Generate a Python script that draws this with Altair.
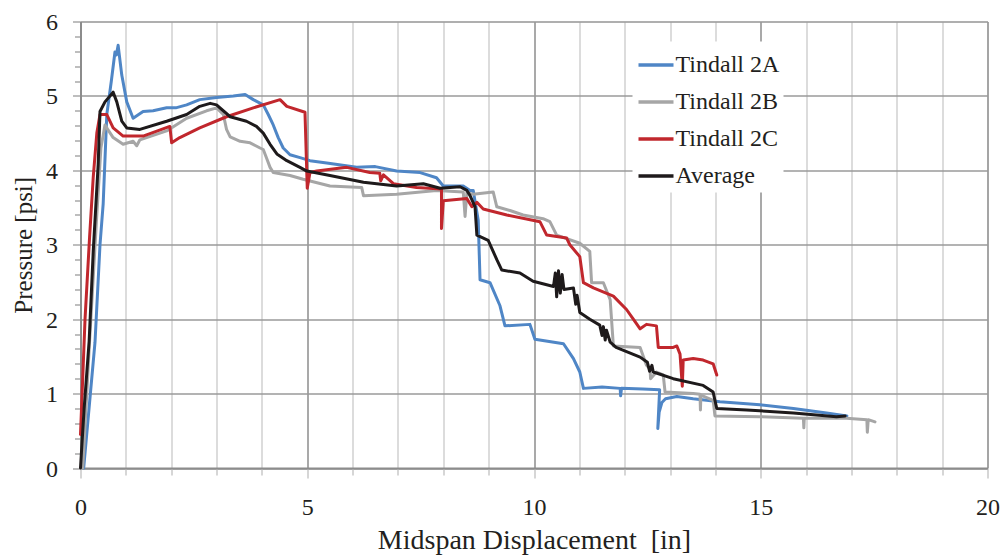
import altair as alt
import pandas as pd

# ---- data ----
series_names = ["Tindall 2A", "Tindall 2B", "Tindall 2C", "Average"]
series_colors = ["#4F86C6", "#A6A6A6", "#C1272D", "#1E1A1B"]

a_x = [0.07, 0.32, 0.43, 0.50, 0.58, 0.68, 0.76, 0.79, 0.83, 0.91, 1.02, 1.16, 1.38, 1.60,
       1.90, 2.10, 2.34, 2.63, 3.00, 3.37, 3.63, 3.81, 4.03, 4.14, 4.25, 4.36, 4.47, 4.62,
       4.84, 5.06, 5.43, 6.09, 6.50, 6.97, 7.49, 7.85, 8.00, 8.44, 8.59, 8.66, 8.77, 8.81,
       9.03, 9.25, 9.36, 9.91, 10.02, 10.65, 10.87, 11.01, 11.09, 11.50, 11.90, 11.91, 11.93,
       12.40, 12.77, 12.73, 12.76, 12.82, 12.90, 13.15, 13.51, 14.10, 14.98, 15.72, 16.45,
       16.90]
a_y = [0.00, 1.69, 3.00, 3.55, 4.75, 5.20, 5.59, 5.55, 5.68, 5.28, 4.92, 4.70, 4.79, 4.80,
       4.84, 4.84, 4.88, 4.95, 4.98, 5.00, 5.02, 4.95, 4.88, 4.75, 4.61, 4.44, 4.30, 4.21,
       4.17, 4.13, 4.10, 4.04, 4.05, 3.99, 3.97, 3.90, 3.79, 3.79, 3.73, 3.73, 3.33, 2.53,
       2.49, 2.18, 1.91, 1.93, 1.73, 1.67, 1.47, 1.29, 1.07, 1.09, 1.07, 0.97, 1.07,
       1.06, 1.05, 0.53, 0.75, 0.88, 0.93, 0.96, 0.93, 0.89, 0.85, 0.80, 0.74,
       0.70]

b_x = [0.05, 0.20, 0.35, 0.45, 0.54, 0.60, 0.72, 0.94, 1.16, 1.24, 1.31, 1.90, 2.34, 2.78,
       3.00, 3.15, 3.22, 3.30, 3.52, 3.74, 3.96, 4.03, 4.10, 4.18, 4.25, 4.62, 4.91, 5.50,
       6.20, 6.24, 6.97, 7.85, 8.44, 8.48, 8.52, 8.66, 9.10, 9.18, 9.47, 9.76, 10.20, 10.35,
       10.50, 11.01, 11.23, 11.27, 11.53, 11.68, 11.75, 12.34, 12.48, 12.56, 12.57, 12.70,
       12.85, 12.89, 13.51, 13.66, 13.67, 13.68, 13.95, 13.99, 14.98, 15.94, 15.95, 15.96,
       16.89, 17.34, 17.35, 17.37, 17.52]
b_y = [0.00, 1.70, 3.30, 4.30, 4.61, 4.55, 4.44, 4.35, 4.39, 4.33, 4.41, 4.53, 4.70, 4.80,
       4.84, 4.75, 4.55, 4.45, 4.39, 4.37, 4.30, 4.28, 4.17, 4.04, 3.97, 3.93, 3.88, 3.79,
       3.77, 3.66, 3.68, 3.73, 3.71, 3.38, 3.70, 3.68, 3.71, 3.51, 3.46, 3.40, 3.35, 3.31,
       3.13, 3.02, 2.91, 2.49, 2.49, 2.26, 1.64, 1.62, 1.38, 1.33, 1.20, 1.29,
       1.25, 1.02, 1.00, 0.99, 0.78, 0.98, 0.91, 0.70, 0.69, 0.67, 0.54, 0.67,
       0.67, 0.65, 0.48, 0.65, 0.62]

c_x = [0.00, 0.10, 0.20, 0.28, 0.36, 0.43, 0.58, 0.72, 0.94, 1.38, 1.97, 2.01, 2.19, 2.63,
       3.22, 3.81, 4.40, 4.55, 4.95, 5.00, 5.06, 5.21, 5.87, 6.38, 6.60, 6.62, 6.68, 6.90,
       7.41, 7.96, 7.96, 8.00, 8.52, 8.63, 8.74, 8.88, 9.40, 10.13, 10.28, 10.72, 10.79,
       11.01, 11.09, 11.31, 11.75, 12.04, 12.19, 12.34, 12.48, 12.70, 12.74, 13.07, 13.15,
       13.22, 13.27, 13.29, 13.51, 13.73, 13.95, 14.03]
c_y = [0.45, 2.00, 3.10, 3.90, 4.50, 4.75, 4.75, 4.57, 4.46, 4.46, 4.59, 4.37, 4.44, 4.57,
       4.72, 4.84, 4.95, 4.86, 4.78, 3.76, 3.97, 3.99, 4.04, 3.97, 3.96, 3.86, 3.94, 3.82,
       3.77, 3.75, 3.22, 3.59, 3.62, 3.51, 3.57, 3.48, 3.40, 3.31, 3.13, 3.09, 3.00,
       2.84, 2.49, 2.42, 2.31, 2.13, 2.00, 1.87, 1.93, 1.91, 1.62, 1.62, 1.64,
       1.53, 1.10, 1.45, 1.47, 1.45, 1.40, 1.25]

d_x = [0.00, 0.08, 0.19, 0.28, 0.39, 0.43, 0.54, 0.72, 0.80, 0.91, 1.02, 1.31, 1.90, 2.34,
       2.63, 2.86, 3.00, 3.30, 3.66, 3.88, 4.03, 4.18, 4.33, 4.55, 4.84, 4.99, 5.50, 6.24,
       6.97, 7.56, 7.93, 8.37, 8.52, 8.59, 8.70, 8.74, 8.99, 9.18, 9.29, 9.69, 9.98, 10.43,
       10.47, 10.50, 10.54, 10.58, 10.62, 10.66, 10.87, 10.92, 10.95, 11.01, 11.23, 11.45,
       11.50, 11.53, 11.57, 11.60, 11.68, 11.81, 12.34, 12.50, 12.55, 12.60, 12.63, 13.07,
       13.73, 13.95, 14.03, 14.69, 15.72, 16.67, 16.86]
d_y = [0.00, 0.80, 1.70, 2.90, 4.08, 4.79, 4.92, 5.05, 4.92, 4.66, 4.57, 4.55, 4.66, 4.75,
       4.86, 4.90, 4.88, 4.72, 4.66, 4.59, 4.50, 4.35, 4.22, 4.13, 4.04, 3.99, 3.93, 3.84,
       3.79, 3.82, 3.76, 3.78, 3.73, 3.66, 3.51, 3.13, 3.06, 2.80, 2.66, 2.62, 2.51, 2.44,
       2.62, 2.30, 2.65, 2.35, 2.60, 2.40, 2.42, 2.20, 2.32, 2.09, 2.00, 1.92,
       1.78, 1.90, 1.72, 1.85, 1.69, 1.62, 1.49, 1.42, 1.30, 1.38, 1.29, 1.20,
       1.11, 1.02, 0.80, 0.78, 0.74, 0.69, 0.70]

x_tick_values = list(range(0, 21))
y_tick_values = [round(v * 0.2, 1) for v in range(31)]

rows = []
for name, xs, ys in zip(series_names, [a_x, b_x, c_x, d_x], [a_y, b_y, c_y, d_y]):
    for i, (xv, yv) in enumerate(zip(xs, ys)):
        rows.append({"series": name, "x": xv, "y": yv, "i": i})
df = pd.DataFrame(rows)

FONT = "Liberation Serif"
TXT = "#231F20"
W, H = 907, 446.5
NB = "\u00a0"

x_axis = alt.Axis(
    values=x_tick_values,
    labelExpr="datum.value % 5 === 0 ? datum.label : ''",
    title="Midspan" + NB + "Displacement" + NB + NB + "[in]",
    grid=True,
    gridColor={"condition": {"test": "datum.value % 5 === 0", "value": "#8c8c8c"}, "value": "#d0d0d0"},
    gridWidth=1.5,
    domainColor="#8c8c8c", domainWidth=2,
    tickColor="#c8c8c8", tickWidth=1.5,
    tickSize={"condition": {"test": "datum.value % 5 === 0", "value": 10}, "value": 7},
    labelFont=FONT, labelFontSize=24, labelColor=TXT,
    labelBaseline="alphabetic", labelPadding=36, labelFlush=False,
    titleFont=FONT, titleFontSize=28, titleFontWeight="normal", titleColor=TXT,
    titleBaseline="alphabetic", titleY=80, titleX=W / 2, titleAlign="center",
)

y_axis = alt.Axis(
    values=y_tick_values,
    labelExpr="abs(datum.value - round(datum.value)) < 0.01 ? format(datum.value, 'd') : ''",
    title="Pressure [psi]",
    grid=True,
    gridColor="#9a9a9a", gridWidth=1.5,
    gridOpacity={"condition": {"test": "abs(datum.value - round(datum.value)) < 0.01", "value": 1}, "value": 0},
    domainColor="#8c8c8c", domainWidth=2,
    tickColor="#a8a8a8", tickWidth=1.5,
    tickSize={"condition": {"test": "abs(datum.value - round(datum.value)) < 0.01", "value": 8}, "value": 6},
    labelFont=FONT, labelFontSize=24, labelColor=TXT, labelPadding=15, labelFlush=False,
    labelBaseline="alphabetic", labelOffset=8,
    titleFont=FONT, titleFontSize=25, titleFontWeight="normal", titleColor=TXT,
    titleBaseline="alphabetic", titleAngle=270, titleX=-49, titleY=H / 2, titleAlign="center",
)

legend = alt.Legend(
    orient="none", legendX=552, legendY=20, title=None,
    fillColor="white", padding=4,
    symbolType="stroke", symbolSize=1225, symbolStrokeWidth=3.5,
    labelFont=FONT, labelFontSize=24, labelColor=TXT, labelOffset=0,
    rowPadding=5,
)

chart = alt.Chart(df).mark_line(strokeWidth=3, strokeJoin="round", strokeCap="round").encode(
    x=alt.X("x:Q", scale=alt.Scale(domain=[0, 20], nice=False, zero=False), axis=x_axis),
    y=alt.Y("y:Q", scale=alt.Scale(domain=[0, 6], nice=False, zero=False), axis=y_axis),
    color=alt.Color("series:N", scale=alt.Scale(domain=series_names, range=series_colors),
                    sort=series_names, legend=legend),
    order=alt.Order("i:Q"),
).properties(
    width=W, height=H,
    autosize=alt.AutoSizeParams(type="none"),
    padding={"left": 72.5, "top": 13.5, "right": 12, "bottom": 90},
).configure_view(stroke=None).configure(background="white")

chart.save("out.html", embed_options={"renderer": "svg", "actions": False})
